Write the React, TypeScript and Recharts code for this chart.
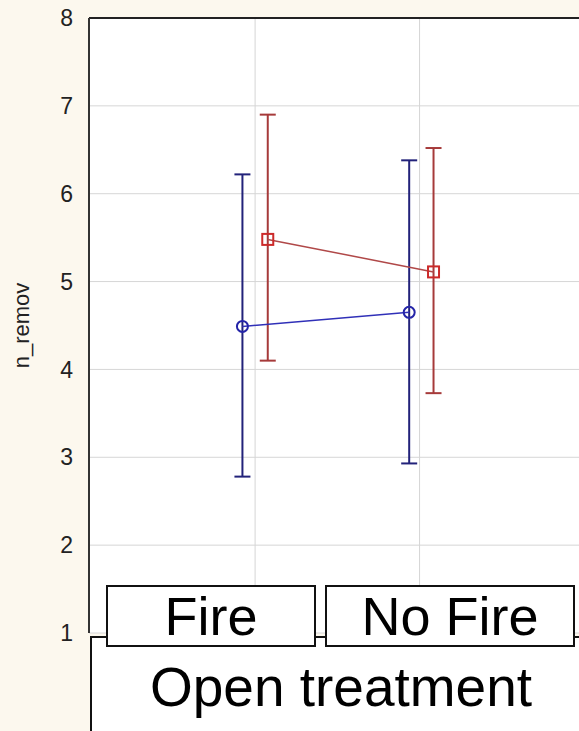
import React from 'react';
import { ComposedChart, Scatter, ErrorBar, XAxis, YAxis, CartesianGrid, ReferenceLine } from 'recharts';

// groups along the x axis (1 = Fire, 2 = No Fire)
const groups = ['Fire', 'No Fire'];
const groupPos = [1, 2];
const yTicks = [1, 2, 3, 4, 5, 6, 7, 8];

// blue series (circles), slightly shifted left of each group
const blueX = [0.923, 1.937];
const blueMean = [4.49, 4.65];
const blueLow = [2.78, 2.93];
const blueHigh = [6.22, 6.38];

// red series (squares), slightly shifted right
const redX = [1.077, 2.085];
const redMean = [5.48, 5.11];
const redLow = [4.10, 3.73];
const redHigh = [6.90, 6.52];

const blueData = groups.map((g, i) => ({
  group: g,
  x: blueX[i],
  y: blueMean[i],
  err: [blueMean[i] - blueLow[i], blueHigh[i] - blueMean[i]],
}));

const redData = groups.map((g, i) => ({
  group: g,
  x: redX[i],
  y: redMean[i],
  err: [redMean[i] - redLow[i], redHigh[i] - redMean[i]],
}));

const FONT = '"Liberation Sans", Arial, sans-serif';

const Circle = (props: any) => (
  <circle cx={props.cx} cy={props.cy} r={5.5} fill="none" stroke="#2424a8" strokeWidth={2} />
);

const Square = (props: any) => (
  <rect x={props.cx - 5.5} y={props.cy - 5.5} width={11} height={11} fill="none" stroke="#cc2a2a" strokeWidth={2} />
);

const boxStyle: React.CSSProperties = {
  position: 'absolute',
  boxSizing: 'border-box',
  border: '2px solid #111',
  background: '#fff',
  display: 'flex',
  alignItems: 'center',
  justifyContent: 'center',
  fontFamily: FONT,
  color: '#000',
  lineHeight: 1,
};

export default function App() {
  return (
    <div
      style={{
        position: 'absolute',
        left: 0,
        top: 0,
        width: 579,
        height: 731,
        overflow: 'hidden',
        background: '#fcf8ee',
      }}
    >
      <ComposedChart width={584} height={731} margin={{ top: 18, right: 0, bottom: 98, left: 0 }}>
        <CartesianGrid stroke="#d6d6d6" fill="#ffffff" vertical={false} />
        <XAxis
          dataKey="x"
          type="number"
          domain={[-0.01, 3]}
          ticks={groupPos}
          tick={false}
          tickLine={false}
          height={0}
          axisLine={{ stroke: '#333', strokeWidth: 2 }}
        />
        <YAxis
          type="number"
          domain={[1, 8]}
          ticks={yTicks}
          width={89}
          tickLine={false}
          tickSize={14}
          tickMargin={2}
          axisLine={{ stroke: '#333', strokeWidth: 2 }}
          tick={{ fill: '#222', fontSize: 23, fontFamily: FONT }}
          label={{
            value: 'n_remov',
            angle: -90,
            position: 'insideLeft',
            offset: 21,
            style: { textAnchor: 'middle', fill: '#222', fontSize: 22, fontFamily: FONT },
          }}
        />
        {groupPos.map((p) => (
          <ReferenceLine key={p} x={p} stroke="#d6d6d6" strokeWidth={1} />
        ))}
        <ReferenceLine y={8} stroke="#222" strokeWidth={2} />
        <Scatter
          data={blueData}
          dataKey="y"
          isAnimationActive={false}
          line={{ stroke: '#3030b8', strokeWidth: 1.5 }}
          shape={Circle}
        >
          <ErrorBar dataKey="err" direction="y" width={8} stroke="#22227a" strokeWidth={2} />
        </Scatter>
        <Scatter
          data={redData}
          dataKey="y"
          isAnimationActive={false}
          line={{ stroke: '#b04848', strokeWidth: 1.5 }}
          shape={Square}
        >
          <ErrorBar dataKey="err" direction="y" width={8} stroke="#a63a3a" strokeWidth={2} />
        </Scatter>
      </ComposedChart>

      <div
        style={{
          ...boxStyle,
          left: 90,
          top: 636,
          width: 500,
          height: 110,
          borderRight: 'none',
          borderBottom: 'none',
          alignItems: 'flex-start',
          paddingTop: 22,
          fontSize: 55,
        }}
      >
        Open treatment
      </div>
      <div style={{ ...boxStyle, left: 106, top: 585, width: 210, height: 62, fontSize: 54 }}>{groups[0]}</div>
      <div style={{ ...boxStyle, left: 325, top: 585, width: 250, height: 62, fontSize: 54 }}>{groups[1]}</div>
    </div>
  );
}
